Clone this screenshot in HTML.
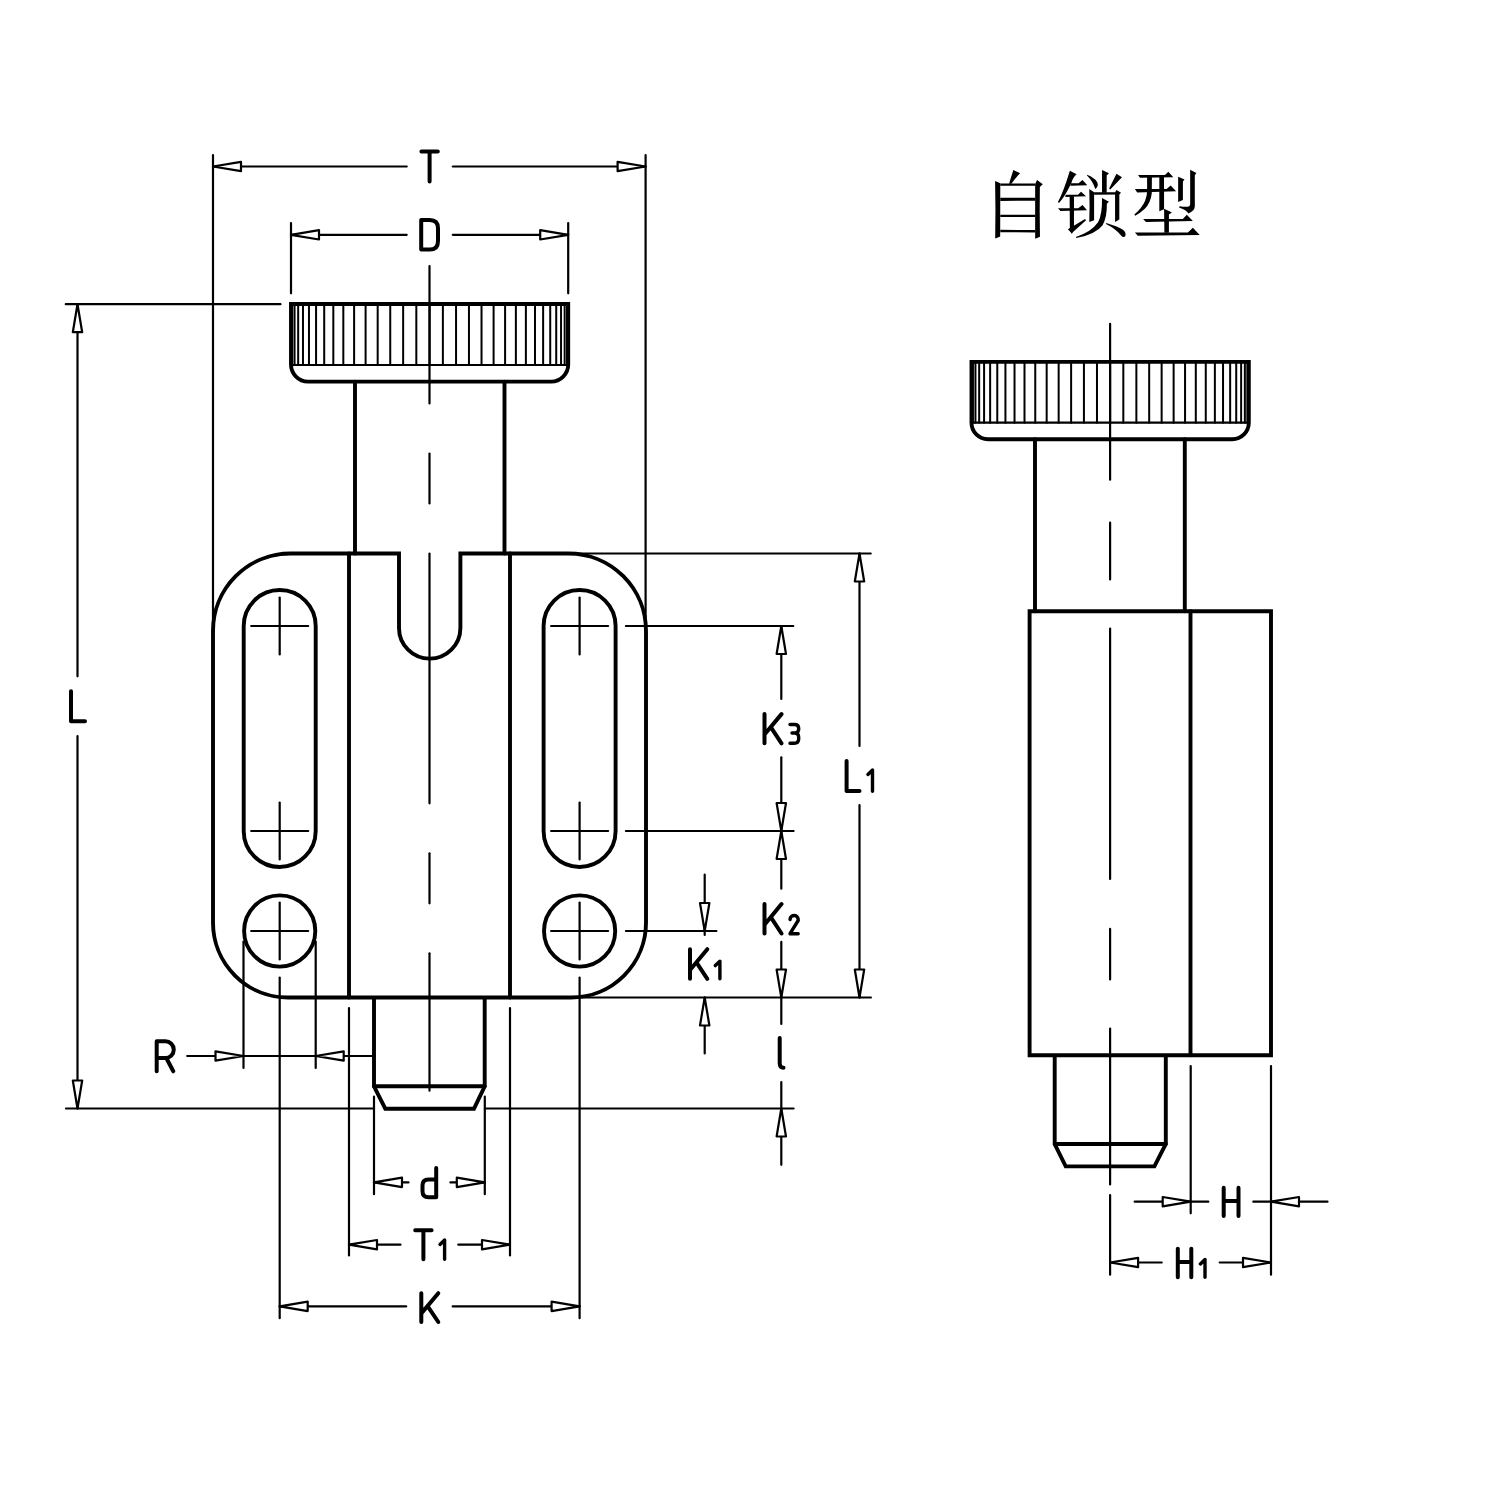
<!DOCTYPE html>
<html><head><meta charset="utf-8"><style>
html,body{margin:0;padding:0;background:#fff;}
svg{display:block;}
</style></head><body>
<svg width="1500" height="1500" viewBox="0 0 1500 1500">
<rect width="1500" height="1500" fill="#fff"/>
<g stroke="#000" fill="none">
<path d="M291,304 H568.2 V364.6 A17,17 0 0 1 551.2,381.6 H308 A17,17 0 0 1 291,364.6 Z" stroke-width="3.9" fill="none" />
<line x1="291.00" y1="365.00" x2="568.20" y2="365.00" stroke-width="2.2" stroke-linecap="round"/>
<line x1="291.08" y1="304.00" x2="291.08" y2="365.00" stroke-width="2.0" stroke-linecap="round"/>
<line x1="292.19" y1="304.00" x2="292.19" y2="365.00" stroke-width="2.0" stroke-linecap="round"/>
<line x1="294.55" y1="304.00" x2="294.55" y2="365.00" stroke-width="2.0" stroke-linecap="round"/>
<line x1="298.16" y1="304.00" x2="298.16" y2="365.00" stroke-width="2.0" stroke-linecap="round"/>
<line x1="302.98" y1="304.00" x2="302.98" y2="365.00" stroke-width="2.0" stroke-linecap="round"/>
<line x1="308.97" y1="304.00" x2="308.97" y2="365.00" stroke-width="2.0" stroke-linecap="round"/>
<line x1="316.07" y1="304.00" x2="316.07" y2="365.00" stroke-width="2.0" stroke-linecap="round"/>
<line x1="324.21" y1="304.00" x2="324.21" y2="365.00" stroke-width="2.0" stroke-linecap="round"/>
<line x1="333.32" y1="304.00" x2="333.32" y2="365.00" stroke-width="2.0" stroke-linecap="round"/>
<line x1="343.32" y1="304.00" x2="343.32" y2="365.00" stroke-width="2.0" stroke-linecap="round"/>
<line x1="354.11" y1="304.00" x2="354.11" y2="365.00" stroke-width="2.0" stroke-linecap="round"/>
<line x1="365.60" y1="304.00" x2="365.60" y2="365.00" stroke-width="2.0" stroke-linecap="round"/>
<line x1="377.68" y1="304.00" x2="377.68" y2="365.00" stroke-width="2.0" stroke-linecap="round"/>
<line x1="390.24" y1="304.00" x2="390.24" y2="365.00" stroke-width="2.0" stroke-linecap="round"/>
<line x1="403.15" y1="304.00" x2="403.15" y2="365.00" stroke-width="2.0" stroke-linecap="round"/>
<line x1="416.32" y1="304.00" x2="416.32" y2="365.00" stroke-width="2.0" stroke-linecap="round"/>
<line x1="429.60" y1="304.00" x2="429.60" y2="365.00" stroke-width="2.0" stroke-linecap="round"/>
<line x1="442.88" y1="304.00" x2="442.88" y2="365.00" stroke-width="2.0" stroke-linecap="round"/>
<line x1="456.05" y1="304.00" x2="456.05" y2="365.00" stroke-width="2.0" stroke-linecap="round"/>
<line x1="468.96" y1="304.00" x2="468.96" y2="365.00" stroke-width="2.0" stroke-linecap="round"/>
<line x1="481.52" y1="304.00" x2="481.52" y2="365.00" stroke-width="2.0" stroke-linecap="round"/>
<line x1="493.60" y1="304.00" x2="493.60" y2="365.00" stroke-width="2.0" stroke-linecap="round"/>
<line x1="505.09" y1="304.00" x2="505.09" y2="365.00" stroke-width="2.0" stroke-linecap="round"/>
<line x1="515.88" y1="304.00" x2="515.88" y2="365.00" stroke-width="2.0" stroke-linecap="round"/>
<line x1="525.88" y1="304.00" x2="525.88" y2="365.00" stroke-width="2.0" stroke-linecap="round"/>
<line x1="534.99" y1="304.00" x2="534.99" y2="365.00" stroke-width="2.0" stroke-linecap="round"/>
<line x1="543.13" y1="304.00" x2="543.13" y2="365.00" stroke-width="2.0" stroke-linecap="round"/>
<line x1="550.23" y1="304.00" x2="550.23" y2="365.00" stroke-width="2.0" stroke-linecap="round"/>
<line x1="556.22" y1="304.00" x2="556.22" y2="365.00" stroke-width="2.0" stroke-linecap="round"/>
<line x1="561.04" y1="304.00" x2="561.04" y2="365.00" stroke-width="2.0" stroke-linecap="round"/>
<line x1="564.65" y1="304.00" x2="564.65" y2="365.00" stroke-width="2.0" stroke-linecap="round"/>
<line x1="567.01" y1="304.00" x2="567.01" y2="365.00" stroke-width="2.0" stroke-linecap="round"/>
<line x1="568.12" y1="304.00" x2="568.12" y2="365.00" stroke-width="2.0" stroke-linecap="round"/>
<line x1="355.00" y1="381.60" x2="355.00" y2="553.50" stroke-width="3.9" stroke-linecap="round"/>
<line x1="504.50" y1="381.60" x2="504.50" y2="553.50" stroke-width="3.9" stroke-linecap="round"/>
<path d="M213,631.0 A77.5,77.5 0 0 1 290.5,553.5 H399 V628 A30.7,30.7 0 0 0 460.4,628 V553.5 H568.5 A77.5,77.5 0 0 1 646,631.0 V922.5 A75,75 0 0 1 571,997.5 H288 A75,75 0 0 1 213,922.5 Z" stroke-width="3.9" fill="none" />
<line x1="349.00" y1="553.50" x2="349.00" y2="997.50" stroke-width="3.9" stroke-linecap="round"/>
<line x1="510.00" y1="553.50" x2="510.00" y2="997.50" stroke-width="3.9" stroke-linecap="round"/>
<path d="M243.7,626 A36,36 0 0 1 315.7,626 V831 A36,36 0 0 1 243.7,831 Z" stroke-width="3.9" fill="none" />
<circle cx="279.7" cy="931" r="35.6" stroke-width="3.9" fill="none"/>
<line x1="251.20" y1="626.00" x2="308.20" y2="626.00" stroke-width="2.2" stroke-linecap="round"/>
<line x1="279.70" y1="597.50" x2="279.70" y2="654.50" stroke-width="2.2" stroke-linecap="round"/>
<line x1="251.20" y1="831.00" x2="308.20" y2="831.00" stroke-width="2.2" stroke-linecap="round"/>
<line x1="279.70" y1="802.50" x2="279.70" y2="859.50" stroke-width="2.2" stroke-linecap="round"/>
<line x1="251.20" y1="931.00" x2="308.20" y2="931.00" stroke-width="2.2" stroke-linecap="round"/>
<line x1="279.70" y1="902.50" x2="279.70" y2="959.50" stroke-width="2.2" stroke-linecap="round"/>
<path d="M543.6,626 A36,36 0 0 1 615.6,626 V831 A36,36 0 0 1 543.6,831 Z" stroke-width="3.9" fill="none" />
<circle cx="579.6" cy="931" r="35.6" stroke-width="3.9" fill="none"/>
<line x1="551.10" y1="626.00" x2="608.10" y2="626.00" stroke-width="2.2" stroke-linecap="round"/>
<line x1="579.60" y1="597.50" x2="579.60" y2="654.50" stroke-width="2.2" stroke-linecap="round"/>
<line x1="551.10" y1="831.00" x2="608.10" y2="831.00" stroke-width="2.2" stroke-linecap="round"/>
<line x1="579.60" y1="802.50" x2="579.60" y2="859.50" stroke-width="2.2" stroke-linecap="round"/>
<line x1="551.10" y1="931.00" x2="608.10" y2="931.00" stroke-width="2.2" stroke-linecap="round"/>
<line x1="579.60" y1="902.50" x2="579.60" y2="959.50" stroke-width="2.2" stroke-linecap="round"/>
<path d="M374,997.5 V1086.3 L385.3,1108.7 H474 L484.7,1086.3 V997.5" stroke-width="3.9" fill="none" />
<line x1="374.00" y1="1086.30" x2="484.70" y2="1086.30" stroke-width="3.9" stroke-linecap="round"/>
<line x1="429.50" y1="266.00" x2="429.50" y2="403.50" stroke-width="2.2" stroke-linecap="round"/>
<line x1="429.50" y1="453.50" x2="429.50" y2="503.50" stroke-width="2.2" stroke-linecap="round"/>
<line x1="429.50" y1="553.50" x2="429.50" y2="803.30" stroke-width="2.2" stroke-linecap="round"/>
<line x1="429.50" y1="853.30" x2="429.50" y2="903.30" stroke-width="2.2" stroke-linecap="round"/>
<line x1="429.50" y1="953.30" x2="429.50" y2="1090.70" stroke-width="2.2" stroke-linecap="round"/>
<line x1="213.00" y1="155.00" x2="213.00" y2="631.00" stroke-width="2.2" stroke-linecap="round"/>
<line x1="645.60" y1="155.00" x2="645.60" y2="631.00" stroke-width="2.2" stroke-linecap="round"/>
<line x1="213.00" y1="166.50" x2="406.70" y2="166.50" stroke-width="2.2" stroke-linecap="round"/>
<line x1="452.80" y1="166.50" x2="645.60" y2="166.50" stroke-width="2.2" stroke-linecap="round"/>
<polygon points="213.00,166.50 241.00,161.80 241.00,171.20" fill="#fff" stroke-width="2.2" stroke-linejoin="round"/>
<polygon points="645.60,166.50 617.60,161.80 617.60,171.20" fill="#fff" stroke-width="2.2" stroke-linejoin="round"/>
<path d="M421.4,151.6 H437.79999999999995 M429.59999999999997,151.6 V181.4" stroke-width="4.0" fill="none" stroke-linecap="round" stroke-linejoin="round"/>
<line x1="291.00" y1="223.00" x2="291.00" y2="293.30" stroke-width="2.2" stroke-linecap="round"/>
<line x1="568.20" y1="223.00" x2="568.20" y2="293.30" stroke-width="2.2" stroke-linecap="round"/>
<line x1="291.00" y1="234.80" x2="406.70" y2="234.80" stroke-width="2.2" stroke-linecap="round"/>
<line x1="452.80" y1="234.80" x2="568.20" y2="234.80" stroke-width="2.2" stroke-linecap="round"/>
<polygon points="291.00,234.80 319.00,230.10 319.00,239.50" fill="#fff" stroke-width="2.2" stroke-linejoin="round"/>
<polygon points="568.20,234.80 540.20,230.10 540.20,239.50" fill="#fff" stroke-width="2.2" stroke-linejoin="round"/>
<path d="M421.2,220 H429.7 Q438.0,220 438.0,228.3 V241.29999999999998 Q438.0,249.6 429.7,249.6 H421.2 Z" stroke-width="4.0" fill="none" stroke-linecap="round" stroke-linejoin="round"/>
<line x1="65.80" y1="304.20" x2="280.50" y2="304.20" stroke-width="2.2" stroke-linecap="round"/>
<line x1="66.00" y1="1108.50" x2="372.70" y2="1108.50" stroke-width="2.2" stroke-linecap="round"/>
<line x1="485.00" y1="1108.50" x2="793.60" y2="1108.50" stroke-width="2.2" stroke-linecap="round"/>
<line x1="77.50" y1="304.20" x2="77.50" y2="676.30" stroke-width="2.2" stroke-linecap="round"/>
<line x1="77.50" y1="736.00" x2="77.50" y2="1108.50" stroke-width="2.2" stroke-linecap="round"/>
<polygon points="77.50,304.20 72.80,332.20 82.20,332.20" fill="#fff" stroke-width="2.2" stroke-linejoin="round"/>
<polygon points="77.50,1108.50 72.80,1080.50 82.20,1080.50" fill="#fff" stroke-width="2.2" stroke-linejoin="round"/>
<path d="M71,691.3 V721.3 H85" stroke-width="4.0" fill="none" stroke-linecap="round" stroke-linejoin="round"/>
<line x1="568.00" y1="553.50" x2="870.70" y2="553.50" stroke-width="2.2" stroke-linecap="round"/>
<line x1="625.90" y1="626.00" x2="793.30" y2="626.00" stroke-width="2.2" stroke-linecap="round"/>
<line x1="625.90" y1="831.00" x2="793.60" y2="831.00" stroke-width="2.2" stroke-linecap="round"/>
<line x1="625.90" y1="931.00" x2="716.40" y2="931.00" stroke-width="2.2" stroke-linecap="round"/>
<line x1="569.00" y1="997.50" x2="870.90" y2="997.50" stroke-width="2.2" stroke-linecap="round"/>
<line x1="781.30" y1="626.00" x2="781.30" y2="699.00" stroke-width="2.2" stroke-linecap="round"/>
<line x1="781.30" y1="757.30" x2="781.30" y2="831.00" stroke-width="2.2" stroke-linecap="round"/>
<polygon points="781.30,626.00 776.60,654.00 786.00,654.00" fill="#fff" stroke-width="2.2" stroke-linejoin="round"/>
<polygon points="781.30,831.00 776.60,803.00 786.00,803.00" fill="#fff" stroke-width="2.2" stroke-linejoin="round"/>
<path d="M764.5,714.1 V743.3000000000001 M781.5,714.1 L764.5,734.54 M770.79,727.094 L781.5,743.3000000000001" stroke-width="4.0" fill="none" stroke-linecap="round" stroke-linejoin="round"/>
<path d="M790,724.5 H794.7 Q798.7,724.5 798.7,728.5 V728.96 Q798.7,732.96 794.7,732.96 H792 M794.7,732.96 Q798.7,732.96 798.7,737.46 V738.8 Q798.7,743.3 794.2,743.3 H790" stroke-width="3.4" fill="none" stroke-linecap="round" stroke-linejoin="round"/>
<line x1="781.30" y1="831.00" x2="781.30" y2="888.70" stroke-width="2.2" stroke-linecap="round"/>
<line x1="781.30" y1="941.90" x2="781.30" y2="997.50" stroke-width="2.2" stroke-linecap="round"/>
<polygon points="781.30,831.00 776.60,859.00 786.00,859.00" fill="#fff" stroke-width="2.2" stroke-linejoin="round"/>
<polygon points="781.30,997.50 776.60,969.50 786.00,969.50" fill="#fff" stroke-width="2.2" stroke-linejoin="round"/>
<path d="M764.5,904.1 V933.5 M781.5,904.1 L764.5,924.6800000000001 M770.79,917.183 L781.5,933.5" stroke-width="4.0" fill="none" stroke-linecap="round" stroke-linejoin="round"/>
<path d="M790,919.5 C790.5,914 798.7,914 798.2,920.5 L790,933.7 H798.2" stroke-width="3.4" fill="none" stroke-linecap="round" stroke-linejoin="round"/>
<line x1="781.30" y1="997.50" x2="781.30" y2="1023.90" stroke-width="2.2" stroke-linecap="round"/>
<line x1="781.30" y1="1082.00" x2="781.30" y2="1164.80" stroke-width="2.2" stroke-linecap="round"/>
<polygon points="781.30,1108.50 776.60,1136.50 786.00,1136.50" fill="#fff" stroke-width="2.2" stroke-linejoin="round"/>
<path d="M779.7,1038.1 V1063.1999999999998 Q779.7,1067.6999999999998 783.5,1067.6999999999998" stroke-width="4.0" fill="none" stroke-linecap="round" stroke-linejoin="round"/>
<line x1="859.50" y1="553.50" x2="859.50" y2="746.00" stroke-width="2.2" stroke-linecap="round"/>
<line x1="859.50" y1="805.00" x2="859.50" y2="997.50" stroke-width="2.2" stroke-linecap="round"/>
<polygon points="859.50,553.50 854.80,581.50 864.20,581.50" fill="#fff" stroke-width="2.2" stroke-linejoin="round"/>
<polygon points="859.50,997.50 854.80,969.50 864.20,969.50" fill="#fff" stroke-width="2.2" stroke-linejoin="round"/>
<path d="M846.6,761 V791.1 H859.5" stroke-width="4.0" fill="none" stroke-linecap="round" stroke-linejoin="round"/>
<path d="M867.9,774.4 L872.5,770 V791.2" stroke-width="3.4" fill="none" stroke-linecap="round" stroke-linejoin="round"/>
<line x1="704.70" y1="874.70" x2="704.70" y2="935.00" stroke-width="2.2" stroke-linecap="round"/>
<polygon points="704.70,931.00 700.00,903.00 709.40,903.00" fill="#fff" stroke-width="2.2" stroke-linejoin="round"/>
<line x1="704.70" y1="997.50" x2="704.70" y2="1053.40" stroke-width="2.2" stroke-linecap="round"/>
<polygon points="704.70,997.50 700.00,1025.50 709.40,1025.50" fill="#fff" stroke-width="2.2" stroke-linejoin="round"/>
<path d="M690,949.2 V978.8000000000001 M707.3,949.2 L690,969.9200000000001 M696.401,962.3720000000001 L707.3,978.8000000000001" stroke-width="4.0" fill="none" stroke-linecap="round" stroke-linejoin="round"/>
<path d="M715.3,965.6 L719.9,961.2 V978.8000000000001" stroke-width="3.4" fill="none" stroke-linecap="round" stroke-linejoin="round"/>
<line x1="243.50" y1="941.60" x2="243.50" y2="1068.00" stroke-width="2.2" stroke-linecap="round"/>
<line x1="315.70" y1="941.60" x2="315.70" y2="1068.00" stroke-width="2.2" stroke-linecap="round"/>
<line x1="187.20" y1="1056.00" x2="372.00" y2="1056.00" stroke-width="2.2" stroke-linecap="round"/>
<polygon points="243.50,1056.00 215.50,1051.30 215.50,1060.70" fill="#fff" stroke-width="2.2" stroke-linejoin="round"/>
<polygon points="315.70,1056.00 343.70,1051.30 343.70,1060.70" fill="#fff" stroke-width="2.2" stroke-linejoin="round"/>
<path d="M156.7,1071.3 V1041.3 H165.39999999999998 A8.35,8.35 0 0 1 165.39999999999998,1058.01 H156.7 M166.29999999999998,1058.01 L173.29999999999998,1071.3" stroke-width="4.0" fill="none" stroke-linecap="round" stroke-linejoin="round"/>
<line x1="279.70" y1="977.50" x2="279.70" y2="1318.20" stroke-width="2.2" stroke-linecap="round"/>
<line x1="579.60" y1="977.50" x2="579.60" y2="1318.20" stroke-width="2.2" stroke-linecap="round"/>
<line x1="349.00" y1="1008.00" x2="349.00" y2="1255.40" stroke-width="2.2" stroke-linecap="round"/>
<line x1="510.00" y1="1008.00" x2="510.00" y2="1255.40" stroke-width="2.2" stroke-linecap="round"/>
<line x1="374.00" y1="1096.70" x2="374.00" y2="1194.20" stroke-width="2.2" stroke-linecap="round"/>
<line x1="484.80" y1="1096.70" x2="484.80" y2="1194.20" stroke-width="2.2" stroke-linecap="round"/>
<line x1="374.00" y1="1182.40" x2="408.50" y2="1182.40" stroke-width="2.2" stroke-linecap="round"/>
<line x1="450.40" y1="1182.40" x2="484.80" y2="1182.40" stroke-width="2.2" stroke-linecap="round"/>
<polygon points="374.00,1182.40 402.00,1177.70 402.00,1187.10" fill="#fff" stroke-width="2.2" stroke-linejoin="round"/>
<polygon points="484.80,1182.40 456.80,1177.70 456.80,1187.10" fill="#fff" stroke-width="2.2" stroke-linejoin="round"/>
<path d="M436.2,1168 V1197.3 H428.5 Q422.5,1197.3 422.5,1191.3 V1185.5 Q422.5,1179.5 428.5,1179.5 H436.2" stroke-width="4.0" fill="none" stroke-linecap="round" stroke-linejoin="round"/>
<line x1="349.00" y1="1244.70" x2="400.50" y2="1244.70" stroke-width="2.2" stroke-linecap="round"/>
<line x1="458.30" y1="1244.70" x2="510.00" y2="1244.70" stroke-width="2.2" stroke-linecap="round"/>
<polygon points="349.00,1244.70 377.00,1240.00 377.00,1249.40" fill="#fff" stroke-width="2.2" stroke-linejoin="round"/>
<polygon points="510.00,1244.70 482.00,1240.00 482.00,1249.40" fill="#fff" stroke-width="2.2" stroke-linejoin="round"/>
<path d="M415.2,1230.2 H431.59999999999997 M423.4,1230.2 V1259.2" stroke-width="4.0" fill="none" stroke-linecap="round" stroke-linejoin="round"/>
<path d="M440.0,1244.4 L444.6,1240 V1259.2" stroke-width="3.4" fill="none" stroke-linecap="round" stroke-linejoin="round"/>
<line x1="279.70" y1="1306.40" x2="406.20" y2="1306.40" stroke-width="2.2" stroke-linecap="round"/>
<line x1="452.70" y1="1306.40" x2="579.60" y2="1306.40" stroke-width="2.2" stroke-linecap="round"/>
<polygon points="279.70,1306.40 307.70,1301.70 307.70,1311.10" fill="#fff" stroke-width="2.2" stroke-linejoin="round"/>
<polygon points="579.60,1306.40 551.60,1301.70 551.60,1311.10" fill="#fff" stroke-width="2.2" stroke-linejoin="round"/>
<path d="M421.3,1293.2 V1322.0 M438.3,1293.2 L421.3,1313.3600000000001 M427.59000000000003,1306.016 L438.3,1322.0" stroke-width="4.0" fill="none" stroke-linecap="round" stroke-linejoin="round"/>
<path d="M971.5,361.9 H1248.8 V422.7 A16.5,16.5 0 0 1 1232.3,439.2 H988.0 A16.5,16.5 0 0 1 971.5,422.7 Z" stroke-width="3.9" fill="none" />
<line x1="971.50" y1="422.70" x2="1248.80" y2="422.70" stroke-width="2.2" stroke-linecap="round"/>
<line x1="971.67" y1="361.90" x2="971.67" y2="422.70" stroke-width="2.0" stroke-linecap="round"/>
<line x1="972.93" y1="361.90" x2="972.93" y2="422.70" stroke-width="2.0" stroke-linecap="round"/>
<line x1="975.44" y1="361.90" x2="975.44" y2="422.70" stroke-width="2.0" stroke-linecap="round"/>
<line x1="979.17" y1="361.90" x2="979.17" y2="422.70" stroke-width="2.0" stroke-linecap="round"/>
<line x1="984.08" y1="361.90" x2="984.08" y2="422.70" stroke-width="2.0" stroke-linecap="round"/>
<line x1="990.14" y1="361.90" x2="990.14" y2="422.70" stroke-width="2.0" stroke-linecap="round"/>
<line x1="997.27" y1="361.90" x2="997.27" y2="422.70" stroke-width="2.0" stroke-linecap="round"/>
<line x1="1005.43" y1="361.90" x2="1005.43" y2="422.70" stroke-width="2.0" stroke-linecap="round"/>
<line x1="1014.53" y1="361.90" x2="1014.53" y2="422.70" stroke-width="2.0" stroke-linecap="round"/>
<line x1="1024.50" y1="361.90" x2="1024.50" y2="422.70" stroke-width="2.0" stroke-linecap="round"/>
<line x1="1035.25" y1="361.90" x2="1035.25" y2="422.70" stroke-width="2.0" stroke-linecap="round"/>
<line x1="1046.67" y1="361.90" x2="1046.67" y2="422.70" stroke-width="2.0" stroke-linecap="round"/>
<line x1="1058.66" y1="361.90" x2="1058.66" y2="422.70" stroke-width="2.0" stroke-linecap="round"/>
<line x1="1071.12" y1="361.90" x2="1071.12" y2="422.70" stroke-width="2.0" stroke-linecap="round"/>
<line x1="1083.93" y1="361.90" x2="1083.93" y2="422.70" stroke-width="2.0" stroke-linecap="round"/>
<line x1="1096.98" y1="361.90" x2="1096.98" y2="422.70" stroke-width="2.0" stroke-linecap="round"/>
<line x1="1110.15" y1="361.90" x2="1110.15" y2="422.70" stroke-width="2.0" stroke-linecap="round"/>
<line x1="1123.32" y1="361.90" x2="1123.32" y2="422.70" stroke-width="2.0" stroke-linecap="round"/>
<line x1="1136.37" y1="361.90" x2="1136.37" y2="422.70" stroke-width="2.0" stroke-linecap="round"/>
<line x1="1149.18" y1="361.90" x2="1149.18" y2="422.70" stroke-width="2.0" stroke-linecap="round"/>
<line x1="1161.64" y1="361.90" x2="1161.64" y2="422.70" stroke-width="2.0" stroke-linecap="round"/>
<line x1="1173.63" y1="361.90" x2="1173.63" y2="422.70" stroke-width="2.0" stroke-linecap="round"/>
<line x1="1185.05" y1="361.90" x2="1185.05" y2="422.70" stroke-width="2.0" stroke-linecap="round"/>
<line x1="1195.80" y1="361.90" x2="1195.80" y2="422.70" stroke-width="2.0" stroke-linecap="round"/>
<line x1="1205.77" y1="361.90" x2="1205.77" y2="422.70" stroke-width="2.0" stroke-linecap="round"/>
<line x1="1214.87" y1="361.90" x2="1214.87" y2="422.70" stroke-width="2.0" stroke-linecap="round"/>
<line x1="1223.03" y1="361.90" x2="1223.03" y2="422.70" stroke-width="2.0" stroke-linecap="round"/>
<line x1="1230.16" y1="361.90" x2="1230.16" y2="422.70" stroke-width="2.0" stroke-linecap="round"/>
<line x1="1236.22" y1="361.90" x2="1236.22" y2="422.70" stroke-width="2.0" stroke-linecap="round"/>
<line x1="1241.13" y1="361.90" x2="1241.13" y2="422.70" stroke-width="2.0" stroke-linecap="round"/>
<line x1="1244.86" y1="361.90" x2="1244.86" y2="422.70" stroke-width="2.0" stroke-linecap="round"/>
<line x1="1247.37" y1="361.90" x2="1247.37" y2="422.70" stroke-width="2.0" stroke-linecap="round"/>
<line x1="1248.63" y1="361.90" x2="1248.63" y2="422.70" stroke-width="2.0" stroke-linecap="round"/>
<line x1="1035.00" y1="439.20" x2="1035.00" y2="611.20" stroke-width="3.9" stroke-linecap="round"/>
<line x1="1184.80" y1="439.20" x2="1184.80" y2="611.20" stroke-width="3.9" stroke-linecap="round"/>
<path d="M1029.6,611.2 H1271 V1055.3 H1029.6 Z" stroke-width="3.9" fill="none" />
<line x1="1190.50" y1="611.20" x2="1190.50" y2="1055.30" stroke-width="3.9" stroke-linecap="round"/>
<path d="M1054.7,1055.3 V1144 L1065.7,1166.4 H1154.4 L1165.8,1144 V1055.3" stroke-width="3.9" fill="none" />
<line x1="1054.70" y1="1144.00" x2="1165.80" y2="1144.00" stroke-width="3.9" stroke-linecap="round"/>
<line x1="1110.10" y1="323.80" x2="1110.10" y2="479.70" stroke-width="2.2" stroke-linecap="round"/>
<line x1="1110.10" y1="522.70" x2="1110.10" y2="579.40" stroke-width="2.2" stroke-linecap="round"/>
<line x1="1110.10" y1="628.60" x2="1110.10" y2="879.00" stroke-width="2.2" stroke-linecap="round"/>
<line x1="1110.10" y1="928.90" x2="1110.10" y2="979.40" stroke-width="2.2" stroke-linecap="round"/>
<line x1="1110.10" y1="1028.60" x2="1110.10" y2="1184.50" stroke-width="2.2" stroke-linecap="round"/>
<line x1="1110.10" y1="1195.00" x2="1110.10" y2="1274.70" stroke-width="2.2" stroke-linecap="round"/>
<line x1="1190.70" y1="1066.00" x2="1190.70" y2="1213.30" stroke-width="2.2" stroke-linecap="round"/>
<line x1="1271.00" y1="1066.00" x2="1271.00" y2="1274.70" stroke-width="2.2" stroke-linecap="round"/>
<line x1="1134.70" y1="1201.70" x2="1208.30" y2="1201.70" stroke-width="2.2" stroke-linecap="round"/>
<line x1="1253.30" y1="1201.70" x2="1327.50" y2="1201.70" stroke-width="2.2" stroke-linecap="round"/>
<polygon points="1190.70,1201.70 1162.70,1197.00 1162.70,1206.40" fill="#fff" stroke-width="2.2" stroke-linejoin="round"/>
<polygon points="1271.00,1201.70 1299.00,1197.00 1299.00,1206.40" fill="#fff" stroke-width="2.2" stroke-linejoin="round"/>
<path d="M1223.7,1187.8 V1216.0 M1238.5,1187.8 V1216.0 M1223.7,1201.0539999999999 H1238.5" stroke-width="4.0" fill="none" stroke-linecap="round" stroke-linejoin="round"/>
<line x1="1110.10" y1="1262.50" x2="1161.70" y2="1262.50" stroke-width="2.2" stroke-linecap="round"/>
<line x1="1219.70" y1="1262.50" x2="1271.00" y2="1262.50" stroke-width="2.2" stroke-linecap="round"/>
<polygon points="1110.10,1262.50 1138.10,1257.80 1138.10,1267.20" fill="#fff" stroke-width="2.2" stroke-linejoin="round"/>
<polygon points="1271.00,1262.50 1243.00,1257.80 1243.00,1267.20" fill="#fff" stroke-width="2.2" stroke-linejoin="round"/>
<path d="M1177.8,1248.7 V1277.2 M1191.3,1248.7 V1277.2 M1177.8,1262.095 H1191.3" stroke-width="4.0" fill="none" stroke-linecap="round" stroke-linejoin="round"/>
<path d="M1200.4,1263.9 L1205,1259.5 V1277.2" stroke-width="3.4" fill="none" stroke-linecap="round" stroke-linejoin="round"/>
</g>
<g fill="#000" stroke="none">
<g transform="translate(985,160) scale(0.056667)">
<!-- 自 -->
<path d="M178,372 L270,412 L268,1350 Q230,1372 180,1385 Q190,900 178,372 Z"/>
<path d="M270,415 L885,415 L885,455 L270,455 Z"/>
<path d="M885,425 L918,352 L1020,428 L968,478 Q962,900 970,1355 Q930,1372 885,1388 Z"/>
<path d="M270,668 L885,668 L885,720 L270,722 Z"/>
<path d="M270,968 L885,968 L885,1005 L270,1005 Z"/>
<path d="M270,1232 L885,1235 L885,1278 L270,1275 Z"/>
<path d="M500,175 L620,235 Q540,310 465,420 L425,418 Q460,300 500,175 Z"/>
</g>
<g transform="translate(1055,160) scale(0.056667)">
<!-- 锁 -->
<path d="M262,190 L382,252 Q320,300 290,400 Q180,640 70,758 L52,742 Q150,560 262,190 Z"/>
<path d="M280,412 L415,412 L485,352 L570,445 L270,455 Z"/>
<path d="M190,615 L405,615 L460,562 L548,640 L180,652 Z"/>
<path d="M55,850 L410,850 L485,793 L565,885 L95,900 Z"/>
<path d="M258,640 L335,640 L335,1190 L300,1302 L228,1222 L262,1198 Z"/>
<path d="M285,1302 L325,1165 L530,1042 L548,1062 Z"/>
<path d="M830,175 L952,235 L912,272 L912,580 L830,580 Z"/>
<path d="M565,262 Q700,315 748,395 Q770,470 710,510 Q670,380 565,275 Z"/>
<path d="M1085,242 L1182,305 L975,522 L955,505 Z"/>
<path d="M605,510 L690,568 L690,1065 L605,1095 Q615,800 605,510 Z"/>
<path d="M690,568 L1060,568 L1085,528 L1165,578 L1135,610 L690,612 Z"/>
<path d="M1060,580 L1135,600 L1135,1048 L1060,1092 Z"/>
<path d="M830,672 L952,735 L915,770 Q920,1000 840,1150 Q720,1310 375,1378 L368,1360 Q640,1270 760,1100 Q835,960 830,672 Z"/>
<path d="M905,1112 Q1100,1170 1200,1230 Q1262,1280 1240,1345 Q1200,1375 1170,1335 Q1080,1220 900,1130 Z"/>
</g>
<g transform="translate(1125,160) scale(0.056667)">
<!-- 型 -->
<path d="M230,265 L705,265 L765,208 L852,305 L265,312 Z"/>
<path d="M175,512 L735,512 L805,452 L902,552 L215,575 Z"/>
<path d="M390,300 L475,300 L472,590 Q450,760 350,860 Q270,935 180,982 L165,962 Q300,850 355,720 Q395,620 390,520 Z"/>
<path d="M605,300 L688,300 L690,868 L605,905 Z"/>
<path d="M938,296 L1050,345 L1022,380 L1022,705 L938,742 Z"/>
<path d="M1150,172 L1260,230 L1232,270 L1232,820 Q1225,900 1120,942 Q1070,870 958,842 L960,815 Q1050,830 1108,826 Q1150,820 1150,780 Z"/>
<path d="M690,862 L828,925 L775,962 L775,1285 L695,1285 Z"/>
<path d="M320,1042 L1020,1042 L1090,968 L1198,1078 L370,1092 Z"/>
<path d="M175,1278 L1110,1278 L1198,1195 L1318,1322 L225,1338 Z"/>
</g>
</g>

</svg>
</body></html>
